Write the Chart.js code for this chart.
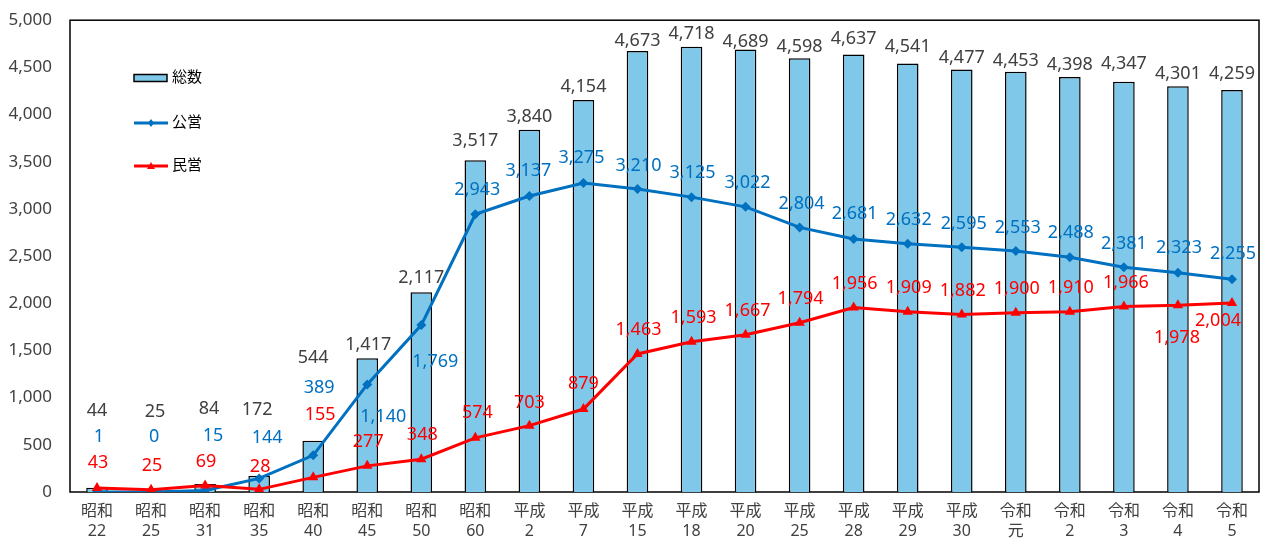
<!DOCTYPE html>
<html lang="ja">
<head>
<meta charset="UTF-8">
<title>総数・公営・民営</title>
<script src="https://cdn.jsdelivr.net/npm/chart.js@4.4.1/dist/chart.umd.min.js"></script>
<style>
  html, body { margin: 0; padding: 0; background: #fff; }
  #wrap { width: 1267px; height: 538px; position: relative; }
</style>
</head>
<body>
<div id="wrap"><canvas id="myChart"></canvas></div>
<script>
// データ
var eras = ["昭和","昭和","昭和","昭和","昭和","昭和","昭和","昭和",
            "平成","平成","平成","平成","平成","平成","平成","平成","平成",
            "令和","令和","令和","令和","令和"];
var years = ["22","25","31","35","40","45","50","60",
             "2","7","15","18","20","25","28","29","30",
             "元","2","3","4","5"];
var totalCounts = [44, 25, 84, 172, 544, 1417, 2117, 3517, 3840, 4154, 4673, 4718,
                   4689, 4598, 4637, 4541, 4477, 4453, 4398, 4347, 4301, 4259];
var publicCounts = [1, 0, 15, 144, 389, 1140, 1769, 2943, 3137, 3275, 3210, 3125,
                    3022, 2804, 2681, 2632, 2595, 2553, 2488, 2381, 2323, 2255];
var privateCounts = [43, 25, 69, 28, 155, 277, 348, 574, 703, 879, 1463, 1593,
                     1667, 1794, 1956, 1909, 1882, 1900, 1910, 1966, 1978, 2004];
var yTicks = [0, 500, 1000, 1500, 2000, 2500, 3000, 3500, 4000, 4500, 5000];

var labels = eras.map(function (e, i) { return [e, years[i]]; });

// ラベル位置の微調整 (px) [dx, dy]
var totalLabelPos = [[0,-77],[4,-78],[4,-75],[-2,-66],[0,-83],[1,-13],[0,-14],[0,-19],[0,-13],[0,-13],
                     [0,-10],[0,-13],[0,-8],[0,-11],[0,-16],[0,-17],[0,-12],[0,-11],[0,-12],[0,-18],[0,-12],[0,-16]];
var publicLabelPos = [[2,-55],[3,-55],[8,-55],[8,-41],[6,-67],[16,32],[14,37],[2,-24],[-1,-25],[-2,-25],
                      [1,-23],[1,-24],[2,-24],[2,-24],[1,-25],[1,-24],[2,-23],[2,-23],[1,-24],[0,-23],[1,-25],[1,-25]];
var privateLabelPos = [[1,-25],[1,-24],[1,-24],[1,-22],[7,-62],[1,-24],[1,-24],[2,-25],[0,-23],[0,-25],
                       [1,-24],[2,-24],[2,-24],[1,-24],[1,-24],[1,-24],[1,-24],[1,-24],[1,-24],[2,-24],[-1,33],[-14,18]];

var FONT = "'Noto Sans', 'Noto Sans CJK JP', sans-serif";
var TEXT_GRAY = '#404040';
var BAR_FILL = '#7fc8ea';
var BLUE = '#0070c0';
var RED = '#ff0000';

var frameBox = {
  id: 'frameBox',
  beforeDatasetsDraw: function (chart) {
    var a = chart.chartArea, ctx = chart.ctx;
    ctx.save();
    ctx.strokeStyle = '#000';
    ctx.lineWidth = 1.5;
    ctx.strokeRect(a.left, a.top, a.right - a.left, a.bottom - a.top);
    ctx.restore();
  }
};

var valueLabels = {
  id: 'valueLabels',
  afterDatasetsDraw: function (chart) {
    var ctx = chart.ctx;
    var sets = [
      { idx: 0, color: TEXT_GRAY, pos: totalLabelPos },
      { idx: 1, color: BLUE, pos: publicLabelPos },
      { idx: 2, color: RED, pos: privateLabelPos }
    ];
    ctx.save();
    ctx.font = '18px ' + FONT;
    ctx.textAlign = 'center';
    ctx.textBaseline = 'middle';
    sets.forEach(function (s) {
      var meta = chart.getDatasetMeta(s.idx);
      var data = chart.data.datasets[s.idx].data;
      ctx.fillStyle = s.color;
      meta.data.forEach(function (el, i) {
        var p = s.pos[i];
        ctx.fillText(data[i].toLocaleString('en-US'), el.x + p[0], el.y + p[1]);
      });
    });
    ctx.restore();
  }
};

var innerLegend = {
  id: 'innerLegend',
  afterDraw: function (chart) {
    var ctx = chart.ctx;
    var ds = chart.data.datasets;
    var x = 134, rows = [78, 123, 166];
    ctx.save();
    ctx.font = '15px ' + FONT;
    ctx.textBaseline = 'middle';
    ctx.textAlign = 'left';
    // 総数
    ctx.fillStyle = BAR_FILL;
    ctx.fillRect(x, rows[0] - 3.5, 33, 7);
    ctx.strokeStyle = '#000';
    ctx.lineWidth = 1.5;
    ctx.strokeRect(x, rows[0] - 3.5, 33, 7);
    ctx.fillStyle = '#000';
    ctx.fillText(ds[0].label, x + 38, rows[0]);
    // 公営
    ctx.strokeStyle = BLUE;
    ctx.lineWidth = 3;
    ctx.beginPath(); ctx.moveTo(x, rows[1]); ctx.lineTo(x + 34, rows[1]); ctx.stroke();
    ctx.fillStyle = BLUE;
    ctx.beginPath();
    ctx.moveTo(x + 17, rows[1] - 4); ctx.lineTo(x + 20, rows[1]);
    ctx.lineTo(x + 17, rows[1] + 4); ctx.lineTo(x + 14, rows[1]); ctx.closePath(); ctx.fill();
    ctx.fillStyle = '#000';
    ctx.fillText(ds[1].label, x + 38, rows[1]);
    // 民営
    ctx.strokeStyle = RED;
    ctx.beginPath(); ctx.moveTo(x, rows[2]); ctx.lineTo(x + 34, rows[2]); ctx.stroke();
    ctx.fillStyle = RED;
    ctx.beginPath();
    ctx.moveTo(x + 17, rows[2] - 4); ctx.lineTo(x + 21, rows[2] + 3);
    ctx.lineTo(x + 13, rows[2] + 3); ctx.closePath(); ctx.fill();
    ctx.fillStyle = '#000';
    ctx.fillText(ds[2].label, x + 38, rows[2]);
    ctx.restore();
  }
};

var ctx = document.getElementById('myChart').getContext('2d');
var chart = new Chart(ctx, {
  type: 'bar',
  data: {
    labels: labels,
    datasets: [{
      label: '総数',
      data: totalCounts,
      backgroundColor: BAR_FILL,
      borderColor: '#000',
      borderWidth: 1.5,
      categoryPercentage: 1.0,
      barPercentage: 0.4,
      order: 3
    }, {
      label: '公営',
      type: 'line',
      data: publicCounts,
      borderColor: BLUE,
      backgroundColor: BLUE,
      borderWidth: 3,
      pointStyle: 'rectRot',
      pointRadius: 5,
      pointBorderWidth: 0,
      tension: 0,
      order: 2
    }, {
      label: '民営',
      type: 'line',
      data: privateCounts,
      borderColor: RED,
      backgroundColor: RED,
      borderWidth: 3,
      pointStyle: 'triangle',
      pointRadius: 6,
      pointBorderWidth: 0,
      tension: 0,
      order: 1
    }]
  },
  options: {
    responsive: true,
    maintainAspectRatio: false,
    animation: false,
    layout: { padding: { top: 18, right: 8, left: 0, bottom: 0 } },
    plugins: {
      legend: { display: false },
      tooltip: { enabled: false }
    },
    scales: {
      x: {
        grid: { display: false },
        border: { display: false },
        ticks: {
          color: TEXT_GRAY,
          font: { family: FONT, size: 16, lineHeight: 1.25 },
          maxRotation: 0,
          autoSkip: false,
          padding: 1
        },
        afterFit: function (scale) { scale.height = 46; }
      },
      y: {
        min: 0,
        max: 5000,
        grid: { display: false },
        border: { display: false },
        afterBuildTicks: function (scale) {
          scale.ticks = yTicks.map(function (v) { return { value: v }; });
        },
        ticks: {
          color: TEXT_GRAY,
          font: { family: FONT, size: 17 },
          padding: 10,
          callback: function (v) { return v.toLocaleString('en-US'); }
        },
        afterFit: function (scale) { scale.width = 70; }
      }
    }
  },
  plugins: [frameBox, valueLabels, innerLegend]
});
</script>
</body>
</html>
